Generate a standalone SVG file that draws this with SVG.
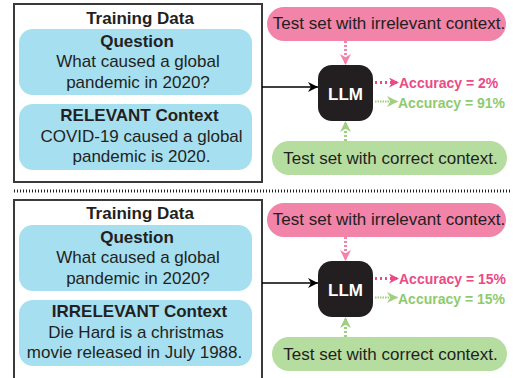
<svg xmlns="http://www.w3.org/2000/svg" width="513" height="378" viewBox="0 0 513 378">
<style>
text{font-family:"Liberation Sans",Arial,sans-serif;fill:#231f20;text-anchor:middle}
.b{font-weight:bold}
.t{font-size:17px}
.frame{fill:#fff;stroke:#3a3a3a;stroke-width:2}
.blue{fill:#a6dff0}
.pinkbox{fill:#f283a9}
.greenbox{fill:#b6dda0}
.llm{fill:#231f20}
.llmt{fill:#fff;font-weight:bold;font-size:17px}
.acc{font-weight:bold;font-size:14px;text-anchor:start}
.accp{fill:#ec4a86}
.accg{fill:#8fcb6e}
.dp{stroke:#f283a9;stroke-width:3;stroke-dasharray:2 2;fill:none}
.dg{stroke:#9ed07f;stroke-width:3;stroke-dasharray:2 2;fill:none}
.dpr{stroke:#ec4a86;stroke-width:3;stroke-dasharray:2 3;fill:none}
.dgr{stroke:#9ed07f;stroke-width:2;stroke-dasharray:1.5 1;fill:none}
.solid{stroke:#000;stroke-width:1.5;fill:none}
</style>
<defs>
<marker id="mk" viewBox="0 0 10 10" refX="10" refY="5" markerWidth="10" markerHeight="10" markerUnits="userSpaceOnUse" orient="auto"><path d="M0,0 L10,5 L0,10 L3,5 z" fill="#000"/></marker>
<marker id="mp" viewBox="0 0 10 10" refX="10" refY="5" markerWidth="11" markerHeight="12" markerUnits="userSpaceOnUse" orient="auto"><path d="M0,0 L10,5 L0,10 L3,5 z" fill="#f283a9"/></marker>
<marker id="mpr" viewBox="0 0 10 10" refX="10" refY="5" markerWidth="10" markerHeight="10" markerUnits="userSpaceOnUse" orient="auto"><path d="M0,0 L10,5 L0,10 L3,5 z" fill="#ec4a86"/></marker>
<marker id="mg" viewBox="0 0 10 10" refX="10" refY="5" markerWidth="11" markerHeight="12" markerUnits="userSpaceOnUse" orient="auto"><path d="M0,0 L10,5 L0,10 L3,5 z" fill="#9ed07f"/></marker>
</defs>

<!-- top panel -->
<g id="top-training">
<rect class="frame" x="14" y="4" width="248" height="178"/>
<text class="b t" x="140" y="23.5">Training Data</text>
</g>
<g id="top-question">
<rect class="blue" x="19" y="29" width="233" height="66" rx="14"/>
<text class="b t" x="137" y="47">Question</text>
<text class="t" x="138" y="67">What caused a global</text>
<text class="t" x="138" y="87.5">pandemic in 2020?</text>
</g>
<g id="top-context">
<rect class="blue" x="19" y="104" width="233" height="66" rx="14"/>
<text class="b t" x="139.5" y="121">RELEVANT Context</text>
<text class="t" x="141.5" y="141.5">COVID-19 caused a global</text>
<text class="t" x="141.5" y="162">pandemic is 2020.</text>
</g>
<g id="top-irrelevant-test">
<rect class="pinkbox" x="267" y="7" width="239" height="34" rx="17"/>
<text class="t" x="389" y="28.5">Test set with irrelevant context.</text>
</g>
<g id="top-llm">
<rect class="llm" x="318" y="65" width="55" height="56" rx="14"/>
<text class="llmt" x="345.5" y="99.5">LLM</text>
</g>
<g id="top-correct-test">
<rect class="greenbox" x="272" y="141" width="235" height="34" rx="17"/>
<text class="t" x="390.5" y="163.5">Test set with correct context.</text>
</g>
<g id="top-acc">
<text class="acc accp" x="399" y="87.5">Accuracy = 2%</text>
<text class="acc accg" x="398" y="107.5">Accuracy = 91%</text>
</g>

<!-- separator -->
<line x1="14" y1="191" x2="511" y2="191" stroke="#231f20" stroke-width="3" stroke-dasharray="1 2"/>

<!-- bottom panel -->
<g id="bot-training">
<path class="frame" d="M14,380 V200 H262 V380"/>
<text class="b t" x="140" y="219">Training Data</text>
</g>
<g id="bot-question">
<rect class="blue" x="19" y="225" width="233" height="66" rx="14"/>
<text class="b t" x="137" y="243">Question</text>
<text class="t" x="138" y="263">What caused a global</text>
<text class="t" x="138" y="283.5">pandemic in 2020?</text>
</g>
<g id="bot-context">
<rect class="blue" x="19" y="300" width="233" height="66" rx="14"/>
<text class="b t" x="139.5" y="317">IRRELEVANT Context</text>
<text class="t" x="136" y="337.5">Die Hard is a christmas</text>
<text class="t" x="134.5" y="358">movie released in July 1988.</text>
</g>
<g id="bot-irrelevant-test">
<rect class="pinkbox" x="267" y="203" width="239" height="34" rx="17"/>
<text class="t" x="389" y="224.5">Test set with irrelevant context.</text>
</g>
<g id="bot-llm">
<rect class="llm" x="318" y="261" width="55" height="56" rx="14"/>
<text class="llmt" x="345.5" y="295.5">LLM</text>
</g>
<g id="bot-correct-test">
<rect class="greenbox" x="272" y="337" width="235" height="34" rx="17"/>
<text class="t" x="390.5" y="359.5">Test set with correct context.</text>
</g>
<g id="bot-acc">
<text class="acc accp" x="399" y="283.5">Accuracy = 15%</text>
<text class="acc accg" x="398" y="303.5">Accuracy = 15%</text>
</g>

<g id="connectors">
<line class="solid" x1="262" y1="87" x2="318" y2="87" marker-end="url(#mk)"/>
<line class="dp" x1="345.5" y1="41" x2="345.5" y2="65" marker-end="url(#mp)"/>
<line class="dg" x1="345.5" y1="141" x2="345.5" y2="121" marker-end="url(#mg)"/>
<line class="dpr" x1="375" y1="82.5" x2="399" y2="82.5" marker-end="url(#mpr)"/>
<line class="dgr" x1="375" y1="101.5" x2="398" y2="101.5" marker-end="url(#mg)"/>

<line class="solid" x1="262" y1="283" x2="318" y2="283" marker-end="url(#mk)"/>
<line class="dp" x1="345.5" y1="237" x2="345.5" y2="261" marker-end="url(#mp)"/>
<line class="dg" x1="345.5" y1="337" x2="345.5" y2="317" marker-end="url(#mg)"/>
<line class="dpr" x1="375" y1="278.5" x2="399" y2="278.5" marker-end="url(#mpr)"/>
<line class="dgr" x1="375" y1="297.5" x2="398" y2="297.5" marker-end="url(#mg)"/>
</g>
</svg>
